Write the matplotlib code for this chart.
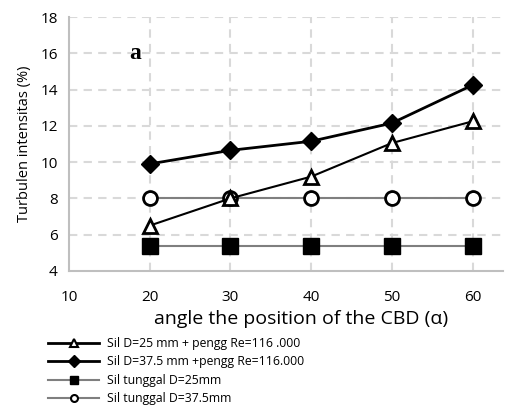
import matplotlib
matplotlib.use("Agg")
import matplotlib.pyplot as plt
from matplotlib.lines import Line2D

angles = [20, 30, 40, 50, 60]
tri_vals = [6.5, 8.0, 9.2, 11.05, 12.25]
dia_vals = [9.9, 10.65, 11.15, 12.15, 14.25]
sq_vals = [5.35, 5.35, 5.35, 5.35, 5.35]
circ_vals = [8.0, 8.0, 8.0, 8.0, 8.0]
labels = ["Sil D=25 mm + pengg Re=116 .000",
          "Sil D=37.5 mm +pengg Re=116.000",
          "Sil tunggal D=25mm",
          "Sil tunggal D=37.5mm"]
xticks = [10, 20, 30, 40, 50, 60]
yticks = [4, 6, 8, 10, 12, 14, 16, 18]

plt.rcParams['font.family'] = ['Open Sans', 'DejaVu Sans']

fig = plt.figure(figsize=(5.05, 4.05), dpi=100)
ax = fig.add_axes([0.1366, 0.331, 0.86, 0.627])

grid_c = '#d9d9d9'
for x in xticks[1:]:
    ax.axvline(x, color=grid_c, lw=1.5, ls=(0, (4, 3)), zorder=0)
for y in yticks[1:]:
    ax.axhline(y, color=grid_c, lw=1.5, ls=(0, (4, 3)), zorder=0)

ax.plot(angles, sq_vals, color='#7f7f7f', lw=1.5, marker='s', ms=11,
        mfc='black', mec='black', zorder=3)
ax.plot(angles, circ_vals, color='#7f7f7f', lw=1.5, marker='o', ms=10,
        mfc='white', mec='black', mew=2, zorder=3)
ax.plot(angles, tri_vals, color='black', lw=1.5, marker='^', ms=10,
        mfc='white', mec='black', mew=2, zorder=4)
ax.plot(angles, dia_vals, color='black', lw=2, marker='D', ms=9,
        mfc='black', mec='black', zorder=4)

ax.set_xlim(10, 63.8)
ax.set_ylim(4, 18)
ax.set_xticks(xticks)
ax.set_yticks(yticks)
ax.tick_params(length=0, labelsize=11, pad=8)
ax.tick_params(axis='x', pad=14)
for s in ['top', 'right']:
    ax.spines[s].set_visible(False)
for s in ['left', 'bottom']:
    ax.spines[s].set_color('#bfbfbf')
    ax.spines[s].set_linewidth(1.5)

ax.set_ylabel("Turbulen intensitas (%)", fontsize=10.5, labelpad=6)
ax.set_xlabel("angle the position of the CBD (α)", fontsize=14, labelpad=3)
ax.xaxis.set_label_coords(0.535, -0.155)
ax.text(18.2, 16.0, "a", family='Liberation Serif', fontweight='bold',
        fontsize=17, ha='center', va='center')

handles = [
    Line2D([], [], color='black', lw=2, marker='^', ms=6, mfc='white', mec='black', mew=1.5),
    Line2D([], [], color='black', lw=2, marker='D', ms=6, mfc='black', mec='black'),
    Line2D([], [], color='#7f7f7f', lw=1.5, marker='s', ms=6, mfc='black', mec='black'),
    Line2D([], [], color='#7f7f7f', lw=1.5, marker='o', ms=5, mfc='white', mec='black', mew=1.5),
]
fig.legend(handles, labels, loc='upper left', bbox_to_anchor=(0.095, 0.168),
           frameon=False, fontsize=8.8, handlelength=4.2, handletextpad=0.6,
           labelspacing=0.45, borderpad=0, borderaxespad=0)

fig.savefig("out.png", dpi=100)
